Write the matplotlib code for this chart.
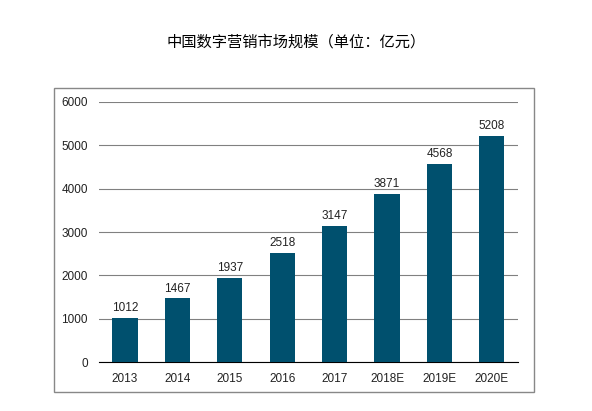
import matplotlib.pyplot as plt
from matplotlib.patches import Rectangle

plt.rcParams['font.family'] = ['Noto Sans CJK SC', 'DejaVu Sans']

years = ['2013', '2014', '2015', '2016', '2017', '2018E', '2019E', '2020E']
values = [1012, 1467, 1937, 2518, 3147, 3871, 4568, 5208]

fig = plt.figure(figsize=(5.92, 4.11), dpi=100)
fig.text(0.5, 0.898, '中国数字营销市场规模（单位：亿元）', ha='center', va='center', fontsize=11)
fig.patches.append(Rectangle((0.091, 0.046), 0.811, 0.74, transform=fig.transFigure,
                             fill=False, edgecolor='#888888', linewidth=1))

ax = fig.add_axes([0.167, 0.119, 0.708, 0.633])
x = range(len(years))
bars = ax.bar(x, values, width=0.48, color='#00506e', zorder=3)
for xi, v in zip(x, values):
    ax.text(xi, v + 90, str(v), ha='center', va='bottom', fontsize=8.5, color='#222222',
            family='Liberation Sans')

ax.set_xlim(-0.5, len(years) - 0.5)
ax.set_ylim(0, 6000)
ax.set_yticks(range(0, 6001, 1000))
ax.set_xticks(list(x))
ax.set_xticklabels(years, family='Liberation Sans', fontsize=8.5)
for lab in ax.get_yticklabels():
    lab.set_family('Liberation Sans')
    lab.set_fontsize(8.5)
ax.grid(axis='y', color='#808080', linewidth=0.8, zorder=0)
for s in ['top', 'right', 'left']:
    ax.spines[s].set_visible(False)
ax.spines['bottom'].set_color('black')
ax.tick_params(length=0, pad=8, colors='#222222')

fig.savefig('out.png')
